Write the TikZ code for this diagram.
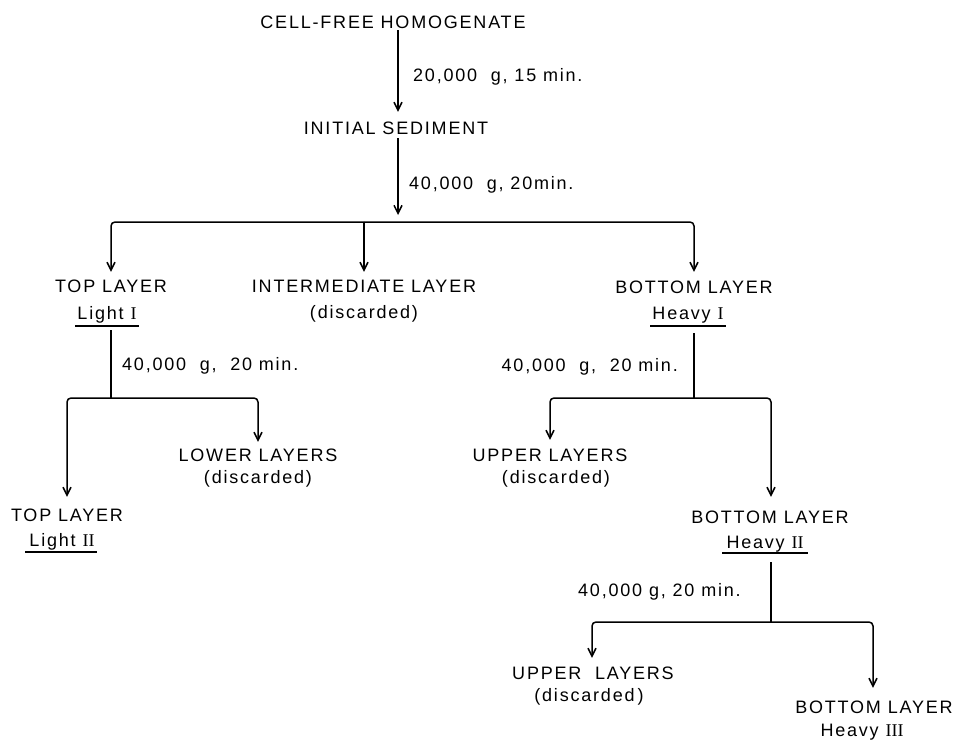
\documentclass[tikz,border=0pt]{standalone}
\usepackage{fontspec}
\setmainfont{Liberation Sans}[LetterSpace=10]
\newfontfamily\romnum{Liberation Serif}
\usetikzlibrary{arrows.meta}
\begin{document}
\begin{tikzpicture}[x=1pt,y=-1pt,
  lbl/.style={font=\fontsize{18}{20}\selectfont, inner sep=0pt, text height=13pt, text depth=0pt, anchor=base},
  cond/.style={font=\fontsize{18}{20}\selectfont, inner sep=0pt},
  ln/.style={line width=1.5pt, rounded corners=4pt},
  arr/.style={ln, -{Straight Barb[length=8pt,width=8pt,line width=1.5pt]}},
  ul/.style={line width=1.3pt}]
\useasboundingbox (0,0) rectangle (959,740);

% nodes
\node[lbl] (cf) at (393,28.5) {CELL-FREE HOMOGENATE};
\node[lbl] (is) at (396,134.5) {INITIAL\ SEDIMENT};
\node[lbl] (tl1) at (111,292.5) {TOP LAYER};
\node[lbl] (l1) at (107,319) {Light {\romnum I}};
\node[lbl] (im) at (364,292.5) {INTERMEDIATE\ LAYER};
\node[lbl] (imd) at (364,318.5) {(discarded)};
\node[lbl] (bl1) at (694,293) {BOTTOM\ LAYER};
\node[lbl] (h1) at (688,319) {Heavy {\romnum I}};
\node[lbl] (tl2) at (67,521.5) {TOP LAYER};
\node[lbl] (l2) at (62,546) {Light {\romnum II}};
\node[lbl] (ll) at (258,461) {LOWER\ LAYERS};
\node[lbl] (lld) at (258,483) {(discarded)};
\node[lbl] (ul1) at (550,461) {UPPER\ LAYERS};
\node[lbl] (ul1d) at (556,483) {(discarded)};
\node[lbl] (bl2) at (770,523.5) {BOTTOM\ LAYER};
\node[lbl] (h2) at (765,548) {Heavy {\romnum II}};
\node[lbl] (ul2) at (593,679.5) {UPPER\ \ LAYERS};
\node[lbl] (ul2d) at (589,701) {(discarded\,)};
\node[lbl] (bl3) at (874,713.5) {BOTTOM\ LAYER};
\node[lbl] (h3) at (862,736) {Heavy {\romnum III}};

% condition labels
\node[cond, anchor=base west] (c1) at (413,81) {20,000\ \ g,\ 15 min.};
\node[cond, anchor=base west] (c2) at (409,189.5) {40,000\ \ g,\ 20min.};
\node[cond, anchor=base west] (c3) at (122,370) {40,000\ \ g,\ \ 20 min.};
\node[cond, anchor=base east] (c4) at (678,371) {40,000\ \ g,\ \ 20 min.};
\node[cond, anchor=base west] (c5) at (578,596.5) {40,000\ g,\ 20 min.};

% underlines
\draw[ul] ([xshift=-2pt,yshift=-7pt]l1.base west) -- ([xshift=2pt,yshift=-7pt]l1.base east);
\draw[ul] ([xshift=-2pt,yshift=-7pt]h1.base west) -- ([xshift=2pt,yshift=-7pt]h1.base east);
\draw[ul] ([xshift=-4pt,yshift=-6pt]l2.base west) -- ([xshift=2pt,yshift=-6pt]l2.base east);
\draw[ul] ([xshift=-4pt,yshift=-5pt]h2.base west) -- ([xshift=4pt,yshift=-5pt]h2.base east);

% junction coordinates
\coordinate (x1) at (398,0);
\coordinate (b1) at (364,222);
\coordinate (b2) at (111,398);
\coordinate (b3) at (694,398);
\coordinate (b4) at (771,622);

% stage 1 and 2
\draw[arr, shorten <=1.5pt, shorten >=9.5pt] (cf.south -| x1) -- (is.north -| x1);
\draw[arr, shorten <=3.5pt, shorten >=7pt] (is.south -| x1) -- (x1 |- b1);

% first split
\draw[arr, shorten >=7.5pt] (b1) -| (tl1.north);
\draw[arr, shorten >=7.5pt] (b1) -- (im.north);
\draw[arr, shorten >=8pt] (b1) -| (bl1.north);

% from Light I
\draw[ln] ([yshift=-11pt]l1.base -| tl1.north) -- (b2);
\draw[arr, shorten >=11.5pt] (b2) -| (tl2.north);
\draw[arr, shorten >=6pt] (b2) -| (ll.north);

% from Heavy I
\draw[ln] ([yshift=-14pt]h1.base -| bl1.north) -- (b3);
\draw[arr, shorten >=8pt] (b3) -| (ul1.north);
\draw[arr, shorten >=13.5pt] (b3) -| (bl2.north -| b4);

% from Heavy II
\draw[ln] ([yshift=-14pt]h2.base -| b4) -- (b4);
\draw[arr, shorten >=8.5pt] (b4) -| ([xshift=-1pt]ul2.north);
\draw[arr, shorten >=12.5pt] (b4) -| ([xshift=-1pt]bl3.north);
\end{tikzpicture}
\end{document}
